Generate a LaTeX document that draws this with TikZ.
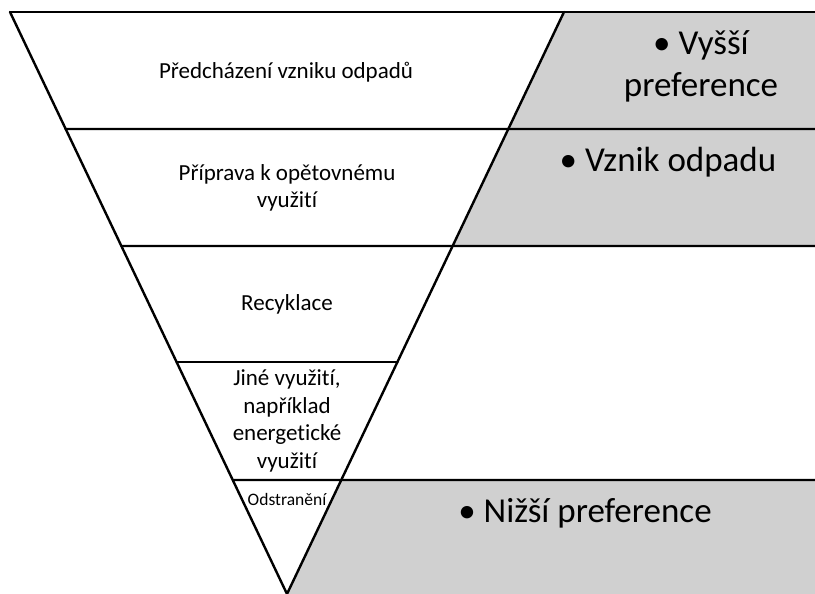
\documentclass[tikz,border=0pt]{standalone}
\usepackage{fontspec}
\setmainfont{Carlito}[RawFeature={-liga;-clig;-calt;-dlig}]
\usetikzlibrary{calc}
\definecolor{bandgray}{RGB}{208,208,208}
\tikzset{
  edge/.style={line width=2.4pt, line cap=round, line join=round},
  lbl/.style={font=\fontsize{23}{27.5}\selectfont, align=center, inner sep=0pt},
  biglbl/.style={font=\fontsize{35}{42}\selectfont, align=center, inner sep=0pt},
  smalllbl/.style={font=\fontsize{17.5}{21}\selectfont, inner sep=0pt}
}
\begin{document}
\begin{tikzpicture}[x=1pt,y=-1pt]
\useasboundingbox (0,0) rectangle (815,594);
% key points
\coordinate (L0) at (10,12);
\coordinate (R0) at (564,12);
\coordinate (A) at (287,594);
\coordinate (E0) at (815,12);
\coordinate (L1) at ($(L0)!0.2010!(A)$);
\coordinate (R1) at ($(R0)!0.2010!(A)$);
\coordinate (L2) at ($(L0)!0.4021!(A)$);
\coordinate (R2) at ($(R0)!0.4021!(A)$);
\coordinate (L3) at ($(L0)!0.6014!(A)$);
\coordinate (R3) at ($(R0)!0.6014!(A)$);
\coordinate (L4) at ($(L0)!0.8041!(A)$);
\coordinate (R4) at ($(R0)!0.8041!(A)$);
\coordinate (E1) at (815,129);
\coordinate (E2) at (815,246);
\coordinate (E4) at (815,480);
\coordinate (E5) at (815,594);
% gray bands
\fill[bandgray] (R0) -- (E0) -- (E2) -- (R2) -- cycle;
\fill[bandgray] (R4) -- (E4) -- (E5) -- (A) -- cycle;
% lines
\draw[edge] (L0) -- (E0);
\draw[edge] (L0) -- (A) -- (R0);
\draw[edge] (L1) -- (E1);
\draw[edge] (L2) -- (E2);
\draw[edge] (L3) -- (R3);
\draw[edge] (L4) -- (E4);
% texts
\node[lbl] (t1) at (286,72) {Předcházení vzniku odpadů};
\node[lbl] (t2) at (287,188) {Příprava k opětovnému\\využit\kern0pt í};
\node[lbl] (t3) at (287,304) {Recyklace};
\node[lbl] (t4) at (287,421) {Jiné využit\kern0pt í,\\například\\energet\kern0pt ické\\využit\kern0pt í};
\node[smalllbl] (t5) at (287,499) {Odstranění};
\node[biglbl] (g1) at (701,66) {\textbullet\ Vyšší\hspace{10pt}\\preference};
\node[biglbl] (g2) at (668,162) {\textbullet\ Vznik odpadu};
\node[biglbl] (g3) at (585,513) {\textbullet\ Nižší preference};
\end{tikzpicture}
\end{document}
